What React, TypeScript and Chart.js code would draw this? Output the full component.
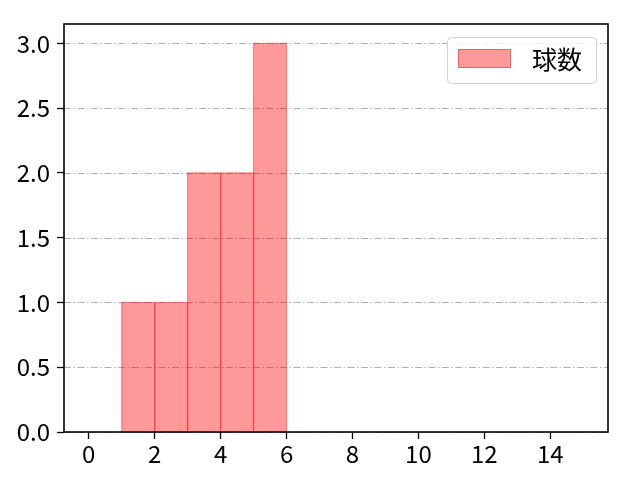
import React, { useEffect, useRef } from "react";
import { Chart, registerables } from "chart.js";

Chart.register(...registerables);

const binStarts = [1, 2, 3, 4, 5];
const binWidth = 1;
const counts = [1, 1, 2, 2, 3];
const seriesLabel = "球数";
const xTicks = [0, 2, 4, 6, 8, 10, 12, 14];
const yTicks = [0, 0.5, 1.0, 1.5, 2.0, 2.5, 3.0];
const xRange = [-0.75, 15.75];
const yRange = [0, 3.15];

const FONT = "'Noto Sans CJK JP', 'Noto Sans', sans-serif";
const FILL = "rgba(255,0,0,0.4)";
const EDGE = "rgba(255,0,0,0.4)";

const framePlugin = {
  id: "frame",
  beforeDatasetsDraw(chart: any) {
    const { ctx, chartArea, scales } = chart;
    ctx.save();
    ctx.strokeStyle = "#b0b0b0";
    ctx.lineWidth = 1.1;
    ctx.setLineDash([7, 2.5, 1.5, 2.5]);
    for (const v of yTicks) {
      const y = Math.round(scales.y.getPixelForValue(v)) + 0.5;
      ctx.beginPath();
      ctx.moveTo(chartArea.left, y);
      ctx.lineTo(chartArea.right, y);
      ctx.stroke();
    }
    ctx.restore();
  },
  afterDatasetsDraw(chart: any) {
    const { ctx } = chart;
    const meta = chart.getDatasetMeta(0);
    ctx.save();
    ctx.strokeStyle = EDGE;
    ctx.lineWidth = 1.2;
    for (const el of meta.data) {
      const p = el.getProps(["x", "y", "base", "width"], true);
      const l = p.x - p.width / 2;
      const r = p.x + p.width / 2;
      ctx.beginPath();
      ctx.moveTo(l, p.base);
      ctx.lineTo(l, p.y);
      ctx.lineTo(r, p.y);
      ctx.lineTo(r, p.base);
      ctx.stroke();
    }
    ctx.restore();
  },
  afterDraw(chart: any) {
    const { ctx, chartArea } = chart;
    ctx.save();
    ctx.strokeStyle = "#000";
    ctx.lineWidth = 1.6;
    ctx.strokeRect(chartArea.left, chartArea.top, chartArea.right - chartArea.left, chartArea.bottom - chartArea.top);
    // legend
    const lx = 447, ly = 37, lw = 149, lh = 46, r = 4;
    ctx.fillStyle = "rgba(255,255,255,0.8)";
    ctx.strokeStyle = "#d0d0d0";
    ctx.lineWidth = 1;
    ctx.beginPath();
    ctx.roundRect(lx + 0.5, ly + 0.5, lw, lh, r);
    ctx.fill();
    ctx.stroke();
    ctx.fillStyle = FILL;
    ctx.strokeStyle = EDGE;
    ctx.fillRect(458, 49, 53, 19);
    ctx.strokeRect(458.5, 49.5, 52, 18);
    ctx.fillStyle = "#000";
    ctx.font = `25px ${FONT}`;
    ctx.textBaseline = "middle";
    ctx.textAlign = "left";
    ctx.fillText(chart.data.datasets[0].label, 532, 59);
    ctx.restore();
  },
};

export default function App() {
  const ref = useRef<HTMLCanvasElement>(null);
  useEffect(() => {
    document.body.style.margin = "0";
    const chart = new Chart(ref.current!, {
      type: "bar",
      data: {
        datasets: [
          {
            label: seriesLabel,
            data: binStarts.map((b, i) => ({ x: b + binWidth / 2, y: counts[i] })),
            backgroundColor: FILL,
            borderWidth: 0,
            inflateAmount: 0,
            barPercentage: 1,
            categoryPercentage: 1,
          },
        ],
      },
      options: {
        animation: false,
        responsive: true,
        maintainAspectRatio: false,
        layout: { padding: { top: 24, right: 32, left: 0, bottom: 0 } },
        plugins: { legend: { display: false }, tooltip: { enabled: false } },
        scales: {
          x: {
            type: "linear",
            offset: false,
            min: xRange[0],
            max: xRange[1],
            afterBuildTicks: (s: any) => {
              s.ticks = xTicks.map((v) => ({ value: v }));
            },
            afterFit: (s: any) => {
              s.height = 48;
            },
            grid: { offset: false, drawOnChartArea: false, tickLength: 7, tickColor: "#000", tickWidth: 1.3 },
            border: { display: false },
            ticks: {
              color: "#000",
              font: { family: FONT, size: 24 },
              padding: 0,
              maxRotation: 0,
              callback: (v: any) => String(v),
            },
          },
          y: {
            min: yRange[0],
            max: yRange[1],
            afterBuildTicks: (s: any) => {
              s.ticks = yTicks.map((v) => ({ value: v }));
            },
            afterFit: (s: any) => {
              s.width = 64;
            },
            grid: { drawOnChartArea: false, tickLength: 7, tickColor: "#000", tickWidth: 1.3 },
            border: { display: false },
            ticks: {
              color: "#000",
              font: { family: FONT, size: 24 },
              padding: 7,
              callback: (v: any) => Number(v).toFixed(1),
            },
          },
        },
      },
      plugins: [framePlugin],
    } as any);
    return () => chart.destroy();
  }, []);
  return (
    <div style={{ position: "absolute", left: 0, top: 0, width: 640, height: 480, background: "#fff" }}>
      <canvas ref={ref} />
    </div>
  );
}
